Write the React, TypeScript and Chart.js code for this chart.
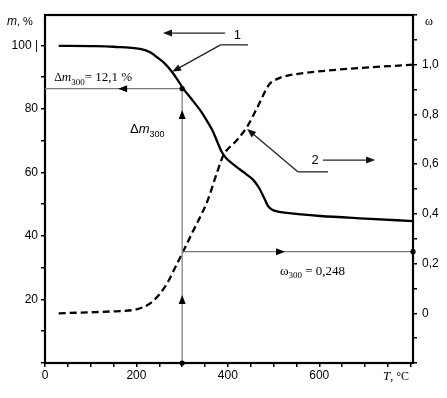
import React, { useEffect, useRef } from "react";
import { Chart, registerables } from "chart.js";
Chart.register(...registerables);

// ---- data ----
const massTemp = [30, 100, 150, 208, 230, 245, 260, 275, 290, 302, 320, 339, 352, 365, 376, 386, 396, 410, 425, 440, 456, 468, 480, 488, 497, 510, 529, 560, 602, 700, 805];
const massPct = [99.9, 99.8, 99.6, 98.9, 97.9, 96.3, 94.6, 92.2, 89.2, 86.5, 83.2, 79.7, 76.8, 73.6, 70.0, 66.6, 64.6, 62.8, 61.1, 59.5, 57.6, 55.2, 51.8, 49.4, 48.3, 47.7, 47.3, 46.8, 46.3, 45.5, 44.7];

const omegaTemp = [30, 100, 150, 200, 230, 252, 270, 285, 302, 320, 340, 355, 377, 390, 419, 442, 465, 490, 500, 515, 530, 640, 805];
const omegaVal = [0, 0.004, 0.008, 0.016, 0.04, 0.08, 0.13, 0.185, 0.248, 0.316, 0.39, 0.45, 0.57, 0.635, 0.695, 0.75, 0.83, 0.92, 0.935, 0.948, 0.956, 0.98, 1.0];

const xTicks = [0, 50, 100, 150, 200, 250, 300, 350, 400, 450, 500, 550, 600, 650, 700, 750, 800];
const xLabels = ["0", "200", "400", "600"];
const mTicks = [0, 10, 20, 30, 40, 50, 60, 70, 80, 90, 100];
const mLabels = ["20", "40", "60", "80", "100"];
const wTicks = [-0.2, -0.1, 0, 0.1, 0.2, 0.3, 0.4, 0.5, 0.6, 0.7, 0.8, 0.9, 1.0, 1.1, 1.2];
const wLabels = ["0", "0,2", "0,4", "0,6", "0,8", "1,0"];

const refTemp = 300;
const refMass = 86.4;
const refOmega = 0.248;
const refMassText = "12,1 %";
const refOmegaText = "0,248";

const SANS = "'Liberation Sans', Arial, sans-serif";
const SERIF = "'Liberation Serif', 'Times New Roman', serif";

function head(ctx: CanvasRenderingContext2D, x: number, y: number, ang: number, len = 9, w = 3.5) {
  ctx.beginPath();
  ctx.moveTo(x, y);
  ctx.lineTo(x - len * Math.cos(ang) - w * Math.sin(ang), y - len * Math.sin(ang) + w * Math.cos(ang));
  ctx.lineTo(x - len * Math.cos(ang) + w * Math.sin(ang), y - len * Math.sin(ang) - w * Math.cos(ang));
  ctx.closePath();
  ctx.fill();
}

function arrow(ctx: CanvasRenderingContext2D, x0: number, y0: number, x1: number, y1: number) {
  const ang = Math.atan2(y1 - y0, x1 - x0);
  ctx.beginPath();
  ctx.moveTo(x0, y0);
  ctx.lineTo(x1 - 6 * Math.cos(ang), y1 - 6 * Math.sin(ang));
  ctx.stroke();
  head(ctx, x1, y1, ang);
}

type Part = [string, string, number];
function runs(ctx: CanvasRenderingContext2D, x: number, y: number, parts: Part[]) {
  let cx = x;
  for (const [t, f, dy] of parts) {
    ctx.font = f;
    ctx.fillText(t, cx, y + dy);
    cx += ctx.measureText(t).width;
  }
}

const annot = {
  id: "annot",
  afterDraw(chart: any) {
    const { ctx, chartArea: a, scales } = chart;
    const px = (t: number) => scales.x.getPixelForValue(t);
    const pm = (m: number) => scales.y.getPixelForValue(m);
    const pw = (w: number) => scales.y1.getPixelForValue(w);
    ctx.save();
    // frame
    ctx.strokeStyle = "#000";
    ctx.lineWidth = 2.2;
    ctx.strokeRect(a.left, a.top, a.right - a.left, a.bottom - a.top);

    // reference lines
    ctx.strokeStyle = "#7a7a7a";
    ctx.fillStyle = "#000";
    ctx.lineWidth = 1.2;
    const xr = px(refTemp);
    const ym = pm(refMass);
    const yw = pw(refOmega);
    ctx.beginPath();
    ctx.moveTo(a.left, ym);
    ctx.lineTo(xr, ym);
    ctx.moveTo(xr, a.bottom);
    ctx.lineTo(xr, ym);
    ctx.moveTo(xr, yw);
    ctx.lineTo(a.right, yw);
    ctx.stroke();
    head(ctx, px(160), ym, Math.PI);
    head(ctx, xr, pm(21.4), -Math.PI / 2);
    head(ctx, xr, pm(79.7), -Math.PI / 2);
    head(ctx, px(525), yw, 0);
    for (const [dx, dy] of [[xr, ym], [xr, a.bottom], [a.right, yw]]) {
      ctx.beginPath();
      ctx.arc(dx, dy, 2.6, 0, Math.PI * 2);
      ctx.fill();
    }

    // legend marks
    ctx.strokeStyle = "#222";
    ctx.fillStyle = "#111";
    ctx.lineWidth = 1.3;
    arrow(ctx, px(394), pm(103.9), px(258), pm(103.9));
    ctx.beginPath();
    ctx.moveTo(px(384), pm(100.2));
    ctx.lineTo(px(444), pm(100.2));
    ctx.stroke();
    arrow(ctx, px(384), pm(100.2), px(278), pm(91.7));
    arrow(ctx, px(608), pm(63.9), px(722), pm(63.9));
    ctx.beginPath();
    ctx.moveTo(px(553), pm(60.2));
    ctx.lineTo(px(619), pm(60.2));
    ctx.stroke();
    arrow(ctx, px(553), pm(60.2), px(442), pm(73.7));

    ctx.fillStyle = "#000";
    ctx.textBaseline = "middle";
    ctx.textAlign = "center";
    ctx.font = `13px ${SANS}`;
    ctx.fillText("1", px(421), pm(103.3));
    ctx.fillText("2", px(591), pm(63.9));

    ctx.textAlign = "left";
    ctx.textBaseline = "alphabetic";
    runs(ctx, px(20), pm(88.8), [
      ["Δ", `12px ${SERIF}`, 0],
      ["m", `italic 13px ${SERIF}`, 0],
      ["300", `9px ${SERIF}`, 4],
      ["= " + refMassText, `13px ${SERIF}`, 0],
    ]);
    runs(ctx, px(186), pm(72.4), [
      ["Δ", `13px ${SANS}`, 0],
      ["m", `italic 13px ${SANS}`, 0],
      ["300", `9px ${SANS}`, 4],
    ]);
    runs(ctx, px(514), pw(0.153), [
      ["ω", `13px ${SERIF}`, 0],
      ["300", `9px ${SERIF}`, 3],
      [" = " + refOmegaText, `13px ${SERIF}`, 0],
    ]);

    // axis titles
    runs(ctx, 7, 25, [
      ["m", `italic 12px ${SANS}`, 0],
      [", %", `11px ${SANS}`, 0],
    ]);
    runs(ctx, a.right + 12, 25, [["ω", `12px ${SERIF}`, 0]]);
    runs(ctx, a.right - 30, a.bottom + 17, [
      ["T", `italic 13px ${SERIF}`, 0],
      [", °C", `12px ${SERIF}`, 0],
    ]);
    ctx.restore();
  },
};

function label(list: string[], v: number, fmt: (v: number) => string) {
  const s = fmt(v);
  return list.includes(s) ? s : "";
}

export default function App() {
  const ref = useRef<HTMLCanvasElement>(null);
  useEffect(() => {
    if (!ref.current) return;
    const tickFont = { family: SANS, size: 12 };
    const grid = { drawOnChartArea: false, drawTicks: true, tickLength: 4, color: "#000", lineWidth: 1.5 };
    const border = { display: true, color: "#000", width: 2 };
    const chart = new Chart(ref.current, {
      type: "line",
      data: {
        datasets: [
          {
            data: massTemp.map((t, i) => ({ x: t, y: massPct[i] })),
            borderColor: "#000",
            borderWidth: 2.3,
            pointRadius: 0,
            cubicInterpolationMode: "monotone",
            yAxisID: "y",
          },
          {
            data: omegaTemp.map((t, i) => ({ x: t, y: omegaVal[i] })),
            borderColor: "#000",
            borderWidth: 2.3,
            borderDash: [7, 4],
            pointRadius: 0,
            cubicInterpolationMode: "monotone",
            yAxisID: "y1",
          },
        ],
      },
      options: {
        responsive: false,
        animation: false,
        layout: { padding: { top: 15, left: 0, right: 0, bottom: 0 } },
        plugins: { legend: { display: false }, tooltip: { enabled: false } },
        scales: {
          x: {
            type: "linear",
            min: 0,
            max: 805,
            afterBuildTicks: (s: any) => { s.ticks = xTicks.map((v) => ({ value: v })); },
            afterFit: (s: any) => { s.height = 35; },
            ticks: {
              autoSkip: false,
              maxRotation: 0,
              padding: 1,
              color: "#000",
              font: tickFont,
              callback: (v: any) => label(xLabels, Number(v), (n) => String(n)),
            },
            grid,
            border,
          },
          y: {
            type: "linear",
            position: "left",
            min: 0,
            max: 109.6,
            afterBuildTicks: (s: any) => { s.ticks = mTicks.map((v) => ({ value: v })); },
            afterFit: (s: any) => { s.width = 45; },
            ticks: {
              autoSkip: false,
              padding: 3,
              color: "#000",
              font: tickFont,
              callback: (v: any) => {
                const s = label(mLabels, Number(v), (n) => String(n));
                return s === "100" ? "100 |" : s;
              },
            },
            grid,
            border,
          },
          y1: {
            type: "linear",
            position: "right",
            min: -0.2,
            max: 1.2,
            afterBuildTicks: (s: any) => { s.ticks = wTicks.map((v) => ({ value: v })); },
            afterFit: (s: any) => { s.width = 34; },
            ticks: {
              autoSkip: false,
              padding: 5,
              color: "#000",
              font: tickFont,
              callback: (v: any) =>
                label(wLabels, Number(v), (n) => {
                  const r = Math.round(n * 10) / 10;
                  return r === 0 ? "0" : r.toFixed(1).replace(".", ",");
                }),
            },
            grid,
            border,
          },
        },
      },
      plugins: [annot],
    } as any);
    return () => chart.destroy();
  }, []);
  return (
    <div style={{ position: "fixed", left: 0, top: 0, width: 447, height: 398, background: "#fff" }}>
      <canvas ref={ref} width={447} height={398} style={{ display: "block" }} />
    </div>
  );
}
